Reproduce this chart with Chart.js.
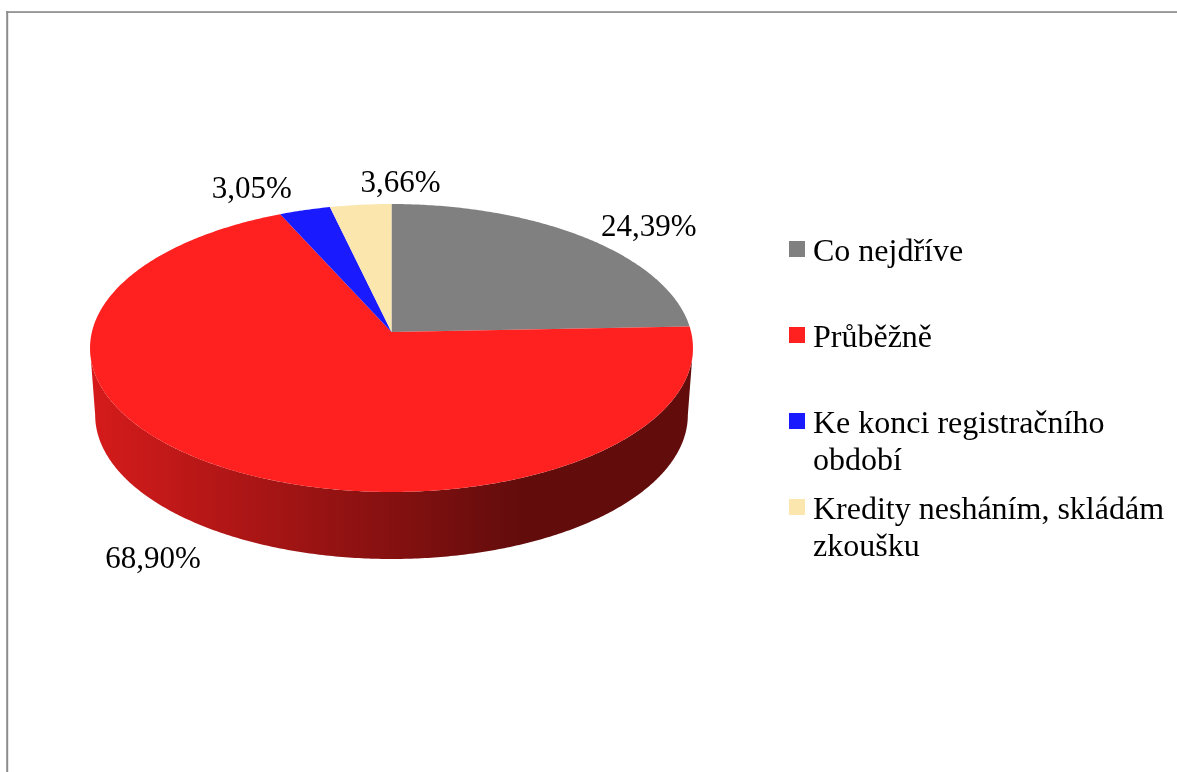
<!DOCTYPE html>
<html>
<head>
<meta charset="utf-8">
<script src="https://cdn.jsdelivr.net/npm/chart.js@4"></script>
<style>
  html, body { margin: 0; padding: 0; background: #fff; overflow: hidden; }
  canvas { display: block; }
</style>
</head>
<body>
<canvas id="chart" width="1177" height="772"></canvas>
<script>
const categories = ['Co nejdříve', 'Průběžně', 'Ke konci registračního období', 'Kredity nesháním, skládám zkoušku']
const values = [24.39, 68.90, 3.05, 3.66]
const colors = ['#808080', '#ff2020', '#1a1aff', '#fbe6ae']

const FONT = '"Liberation Serif", "Times New Roman", serif'
const LABEL_SIZE = 31
const LEGEND_SIZE = 32

// tilted disc, perspective makes the near half bigger than the far half
const DISC = { cx: 391.5, cy: 332, rx: 299.6, ry: 142.2, p: 1 / 9 }
const WALL = { drop: 67, narrow: 0.983 }
const WALL_START = Math.acos(-DISC.p)
const WALL_END = 2 * Math.PI - WALL_START

// where each value label sits relative to the middle of its slice rim
const LABEL_OFFSETS = [[65, -1], [-64, 103], [-53, -12], [40, -13]]

function project(theta, wall) {
  const u = Math.sin(theta)
  const v = -Math.cos(theta)
  const w = 1 - DISC.p * v
  let x = DISC.rx * u / w
  let y = DISC.ry * v / w
  if (wall) { x *= WALL.narrow; y += WALL.drop }
  return [DISC.cx + x, DISC.cy + y]
}

function traceRim(ctx, from, to, wall) {
  const steps = Math.max(2, Math.ceil(Math.abs(to - from) / 0.01))
  for (let i = 0; i <= steps; i++) {
    const [x, y] = project(from + (to - from) * i / steps, wall)
    ctx.lineTo(x, y)
  }
}

function shade(hex, f) {
  const n = parseInt(hex.slice(1), 16)
  const c = [n >> 16, (n >> 8) & 255, n & 255].map(v => Math.round(v * f))
  return `rgb(${c[0]},${c[1]},${c[2]})`
}

function sliceAngles(arc) {
  const { startAngle, endAngle } = arc.getProps(['startAngle', 'endAngle'], true)
  return [startAngle + Math.PI / 2, endAngle + Math.PI / 2]
}

function wrapText(ctx, text, maxWidth) {
  const lines = []
  let line = ''
  text.split(' ').forEach(word => {
    const next = line ? line + ' ' + word : word
    if (ctx.measureText(next).width > maxWidth && line) { lines.push(line); line = word }
    else line = next
  })
  lines.push(line)
  return lines
}

const pie3d = {
  id: 'pie3d',
  beforeDraw(chart) {
    const { ctx, width, height } = chart
    ctx.save()
    ctx.fillStyle = '#8c8c8c'
    ctx.fillRect(6.2, 11.2, width, 1.7)
    ctx.fillRect(6.2, 11.2, 2, height)
    ctx.restore()
  },
  // the arcs keep their angles from the library, only the painting is tilted
  beforeDatasetDraw(chart, args) {
    const { ctx } = chart
    const arcs = chart.getDatasetMeta(args.index).data
    ctx.save()
    arcs.forEach((arc, i) => {
      const [a0, a1] = sliceAngles(arc)
      const from = Math.max(a0, WALL_START)
      const to = Math.min(a1, WALL_END)
      if (from >= to) return
      const base = colors[i]
      const grad = ctx.createLinearGradient(90, 0, 520, 0)
      grad.addColorStop(0, shade(base, 0.84))
      grad.addColorStop(1, shade(base, 0.39))
      ctx.fillStyle = grad
      ctx.beginPath()
      traceRim(ctx, from, to, true)
      traceRim(ctx, to, from, false)
      ctx.closePath()
      ctx.fill()
    })
    arcs.forEach((arc, i) => {
      const [a0, a1] = sliceAngles(arc)
      ctx.fillStyle = colors[i]
      ctx.beginPath()
      ctx.moveTo(DISC.cx, DISC.cy)
      traceRim(ctx, a0, a1, false)
      ctx.closePath()
      ctx.fill()
    })
    ctx.restore()
    return false
  },
  afterDatasetsDraw(chart) {
    const { ctx } = chart
    const arcs = chart.getDatasetMeta(0).data
    ctx.save()
    ctx.font = `${LABEL_SIZE}px ${FONT}`
    ctx.fillStyle = '#000'
    ctx.textBaseline = 'alphabetic'
    ctx.textAlign = 'center'
    arcs.forEach((arc, i) => {
      const [a0, a1] = sliceAngles(arc)
      const [x, y] = project((a0 + a1) / 2, false)
      const text = values[i].toFixed(2).replace('.', ',') + '%'
      ctx.fillText(text, x + LABEL_OFFSETS[i][0], y + LABEL_OFFSETS[i][1])
    })
    ctx.font = `${LEGEND_SIZE}px ${FONT}`
    ctx.textAlign = 'left'
    categories.forEach((name, i) => {
      const top = 241 + i * 86
      ctx.fillStyle = colors[i]
      ctx.fillRect(789, top, 16, 16)
      ctx.fillStyle = '#000'
      wrapText(ctx, name, 360).forEach((line, n) => {
        ctx.fillText(line, 813, top + 20 + n * 36.5)
      })
    })
    ctx.restore()
  }
}

new Chart(document.getElementById('chart'), {
  type: 'pie',
  data: {
    labels: categories,
    datasets: [{ data: values, backgroundColor: colors, borderWidth: 0 }]
  },
  options: {
    responsive: false,
    animation: false,
    plugins: { legend: { display: false }, tooltip: { enabled: false } }
  },
  plugins: [pie3d]
})
</script>
</body>
</html>
